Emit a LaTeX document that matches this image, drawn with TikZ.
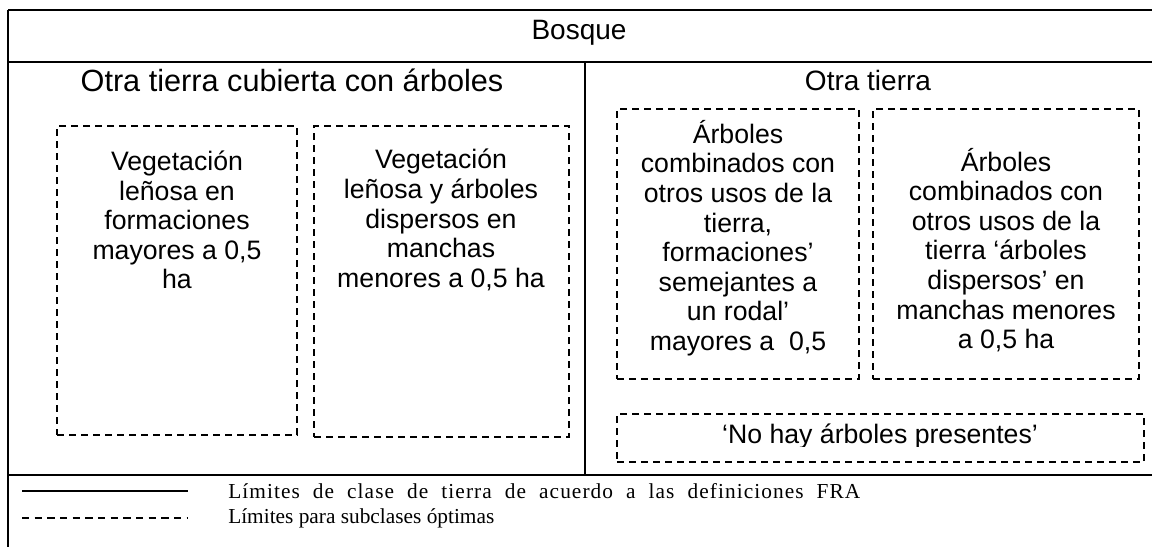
\documentclass[tikz,border=0pt]{standalone}
\usepackage{fontspec}
\setmainfont{Liberation Serif}
\newfontfamily\arial{Liberation Sans}
\newfontfamily\legspaced[LetterSpace=5]{Liberation Serif}
\usetikzlibrary{fit}
\begin{document}
\begin{tikzpicture}[x=0.75pt,y=-0.75pt,
  frameline/.style={line width=1.5pt},
  subbox/.style={draw, dash pattern=on 5.5pt off 3.5pt, line width=1.3pt, inner sep=0pt},
  lbl/.style={font=\arial\fontsize{20}{22.2}\selectfont, align=center, inner sep=0pt},
  title/.style={font=\arial\fontsize{21}{24}\selectfont, inner sep=0pt},
  leg/.style={font=\fontsize{16}{19}\selectfont, anchor=west, inner sep=0pt}]
\useasboundingbox[fill=white] (0,0) rectangle (1152,547);
% frame
\coordinate (tl) at (8,10);
\coordinate (tr) at (1152,10);
\coordinate (ml) at (8,62);
\coordinate (mr) at (1152,62);
\coordinate (bl) at (8,475);
\coordinate (br) at (1152,475);
\coordinate (bot) at (8,547);
\coordinate (dtop) at (585,62);
\coordinate (dbot) at (585,475);
\draw[frameline] (tl) -- (tr);
\draw[frameline] (ml) -- (mr);
\draw[frameline] (bl) -- (br);
\draw[frameline] (tl) -- (bot);
\draw[frameline] (dtop) -- (dbot);
% titles
\node[title] (bosque) at (579,33) {Bosque};
\node[title, font=\arial\fontsize{23}{26}\selectfont] (otc) at (292,80) {Otra tierra cubierta con árboles};
\node[title] (ot) at (868,80) {Otra tierra};
% dashed boxes
\node[subbox, fit={(57,126) (297,435)}] (b1) {};
\node[subbox, fit={(314,126) (569,437)}] (b2) {};
\node[subbox, fit={(617,109) (859,379)}] (b3) {};
\node[subbox, fit={(873,109) (1139,379)}] (b4) {};
\node[subbox, fit={(617,414) (1144,462)}] (b5) {};
% box texts
\node[lbl] (t1) at (177,220) {Vegetación\\leñosa en\\formaciones\\mayores a 0,5\\ha};
\node[lbl] (t2) at (441,220) {Vegetación\\leñosa y árboles\\dispersos en\\manchas\\menores a 0,5 ha};
\node[lbl] (t3) at (738,238) {Árboles\\combinados con\\otros usos de la\\tierra,\\formaciones’\\semejantes a\\un rodal’\\mayores a\ \ 0,5};
\node[lbl] (t4) at (1006,250) {Árboles\\combinados con\\otros usos de la\\tierra ‘árboles\\dispersos’ en\\manchas menores\\a 0,5 ha};
\begin{scope}
\clip (620,416) rectangle (1140,446);
\node[title, font=\arial\fontsize{20}{24}\selectfont, anchor=base] (t5) at (880,443) {‘No hay árboles presentes’};
\end{scope}
% legend
\coordinate (ls1) at (22,491);
\coordinate (le1) at (188,491);
\coordinate (ls2) at (22,518);
\coordinate (le2) at (188,518);
\draw[line width=1.1pt] (ls1) -- (le1);
\draw[line width=1.1pt, dash pattern=on 5.5pt off 4pt] (ls2) -- (le2);
\node[leg, font=\legspaced\fontsize{16}{19}\selectfont] (l1) at (228,491) {\hbox to 474pt{Límites de clase de tierra de acuerdo a las definiciones FRA}};
\node[leg] (l2) at (228,518) {Límites para subclases óptimas};
\end{tikzpicture}
\end{document}
